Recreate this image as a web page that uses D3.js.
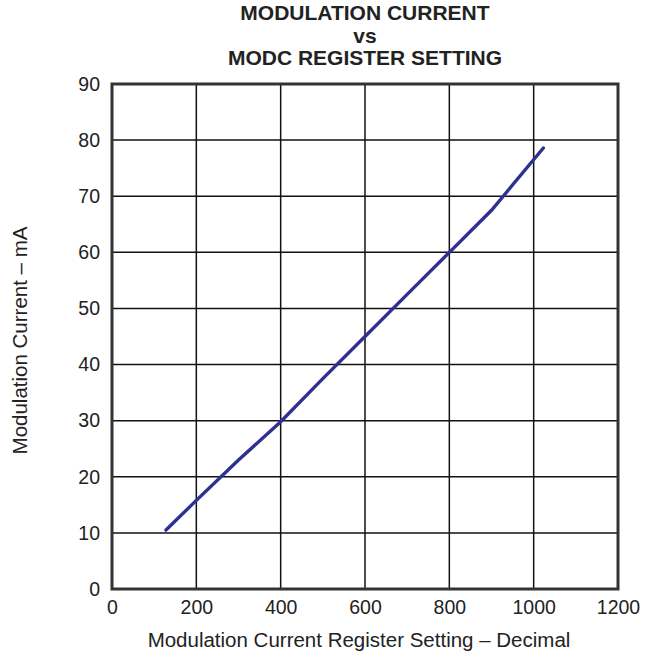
<!DOCTYPE html>
<html>
<head>
<meta charset="utf-8">
<script src="https://cdn.jsdelivr.net/npm/d3@7"></script>
<style>
  body { margin: 0; background: #fff; }
  text { font-family: "Liberation Sans", Arial, sans-serif; fill: #222; }
</style>
</head>
<body>
<div id="chart"></div>
<script>
// register setting (decimal) vs modulation current (mA)
var regSetting = [128, 200, 300, 400, 500, 600, 700, 800, 900, 1023];
var modCurrent = [10.5, 15.8, 23.0, 29.8, 37.5, 45.0, 52.5, 60.0, 67.5, 78.6];
var xTicks = [0, 200, 400, 600, 800, 1000, 1200];
var yTicks = [0, 10, 20, 30, 40, 50, 60, 70, 80, 90];
var titleLines = ["MODULATION CURRENT", "vs", "MODC REGISTER SETTING"];

var W = 653, H = 656;
var margin = { top: 84, right: 35, bottom: 67, left: 112 };
var width = W - margin.left - margin.right;
var height = H - margin.top - margin.bottom;

var svg = d3.select("#chart").append("svg")
  .attr("width", W).attr("height", H);

var g = svg.append("g")
  .attr("transform", "translate(" + margin.left + "," + margin.top + ")");

var xScale = d3.scaleLinear().domain([0, 1200]).range([0, width]);
var yScale = d3.scaleLinear().domain([0, 90]).range([height, 0]);

// grid
g.selectAll(".vgrid").data(xTicks.slice(1, -1)).enter().append("line")
  .attr("x1", function(d) { return xScale(d); })
  .attr("x2", function(d) { return xScale(d); })
  .attr("y1", 0).attr("y2", height)
  .attr("stroke", "#111").attr("stroke-width", 1.5);
g.selectAll(".hgrid").data(yTicks.slice(1, -1)).enter().append("line")
  .attr("y1", function(d) { return yScale(d); })
  .attr("y2", function(d) { return yScale(d); })
  .attr("x1", 0).attr("x2", width)
  .attr("stroke", "#111").attr("stroke-width", 1.5);

// axes (labels only, frame drawn separately)
var xAxisCall = d3.axisBottom(xScale).tickValues(xTicks).tickFormat(d3.format("d"))
  .tickSize(0).tickPadding(11);
var yAxisCall = d3.axisLeft(yScale).tickValues(yTicks).tickFormat(d3.format("d"))
  .tickSize(0).tickPadding(12);

var xa = g.append("g").attr("transform", "translate(0," + height + ")").call(xAxisCall);
var ya = g.append("g").call(yAxisCall);
[xa, ya].forEach(function(a) {
  a.select(".domain").remove();
  a.selectAll("text").style("font-size", "19.5px")
    .style("font-family", "'Liberation Sans', Arial, sans-serif").attr("fill", "#222");
});

// frame
g.append("rect").attr("x", 0).attr("y", 0).attr("width", width).attr("height", height)
  .attr("fill", "none").attr("stroke", "#333").attr("stroke-width", 3);

// data line
var valueline = d3.line()
  .x(function(d, i) { return xScale(regSetting[i]); })
  .y(function(d) { return yScale(d); });

g.append("path").datum(modCurrent)
  .attr("d", valueline)
  .attr("fill", "none").attr("stroke", "#2e3192")
  .attr("stroke-width", 3.4).attr("stroke-linecap", "round");

// title
svg.selectAll(".title").data(titleLines).enter().append("text")
  .attr("x", margin.left + width / 2)
  .attr("y", function(d, i) { return 20 + i * 22.5; })
  .attr("text-anchor", "middle")
  .style("font-size", "21px").style("font-weight", "bold")
  .attr("fill", "#111")
  .text(function(d) { return d; });

// axis titles
svg.append("text")
  .attr("x", margin.left + width / 2 - 6)
  .attr("y", 647)
  .attr("text-anchor", "middle")
  .style("font-size", "20.5px")
  .text("Modulation Current Register Setting \u2013 Decimal");

svg.append("text")
  .attr("transform", "rotate(-90)")
  .attr("x", -(margin.top + height / 2 + 4))
  .attr("y", 27)
  .attr("text-anchor", "middle")
  .style("font-size", "20.5px")
  .text("Modulation Current \u2013 mA");
</script>
</body>
</html>
